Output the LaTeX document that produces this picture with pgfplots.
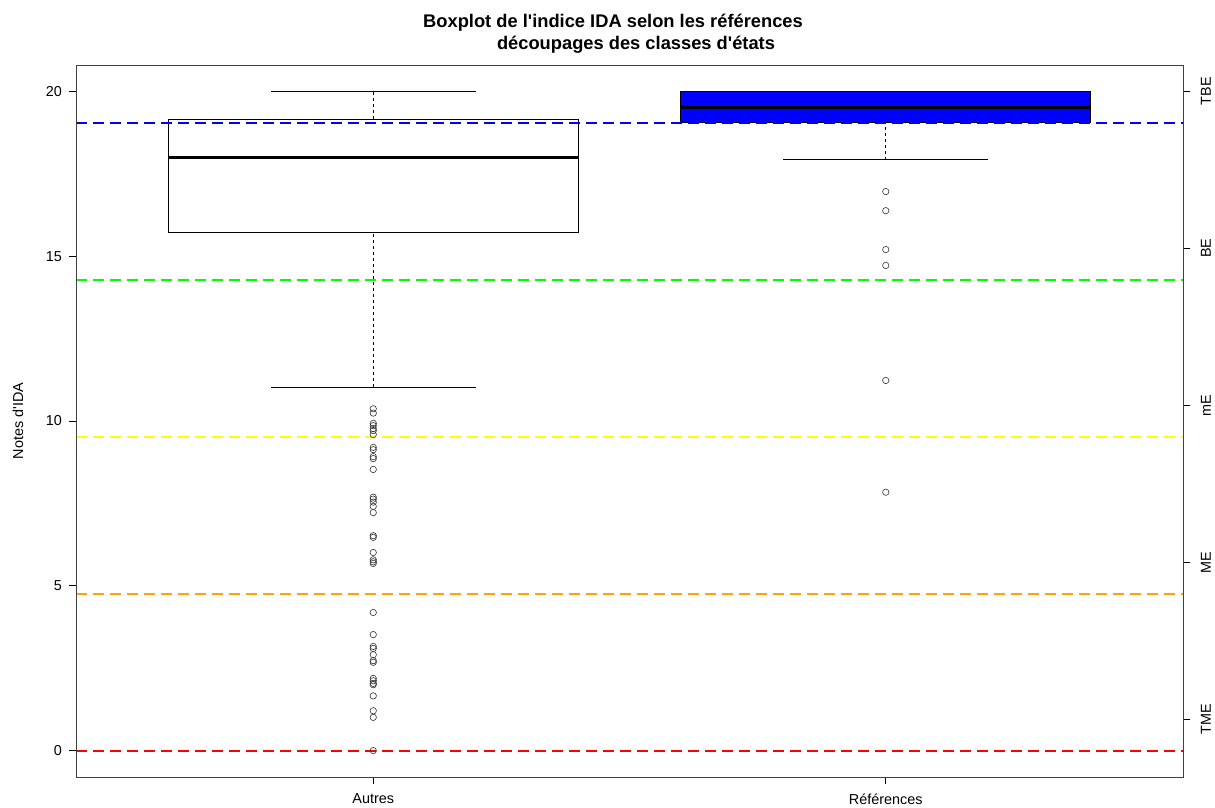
\documentclass[border=0pt]{standalone}
\usepackage{fontspec}
\setmainfont{Liberation Sans}
\usepackage{pgfplots}
\pgfplotsset{compat=1.18}
\definecolor{rorange}{RGB}{255,165,0}
\definecolor{ryellow}{RGB}{255,255,0}
\definecolor{rgreen}{RGB}{0,255,0}
\definecolor{rblue}{RGB}{0,0,255}
\definecolor{rred}{RGB}{255,0,0}
\begin{document}
\fontsize{14.4}{17}\selectfont
\begin{tikzpicture}[x=1pt,y=1pt]
\pgfplotsset{
  common/.style={
    at={(0,0)}, anchor=south west,
    scale only axis, width=1107pt, height=712pt,
    xmin=0.42, xmax=2.58, ymin=-0.8, ymax=20.8,
    tick align=outside, major tick length=7pt,
    tick style={black, line width=0.8pt},
    axis line style={black!75, line width=0.8pt},
    ticklabel style={font=\fontsize{14.4}{17}\selectfont},
    /pgf/number format/assume math mode=true,
    clip=false,
  }
}
\begin{axis}[common,
  xtick={1,2}, xticklabels={Autres,Références},
  xticklabel style={yshift=-5pt},
  ytick={0,5,10,15,20},
  yticklabel style={xshift=-2pt},
  xtick pos=bottom, ytick pos=left,
  ylabel={Notes d\textquotesingle IDA},
  ylabel style={at={(axis description cs:-0.0524,0.5)}, anchor=center, font=\fontsize{14.4}{17}\selectfont},
]
% Autres box
\addplot[black, line width=0.8pt, fill=white] coordinates {(0.6,15.72) (1.4,15.72) (1.4,19.15) (0.6,19.15)} -- cycle;
\addplot[black, line width=3pt] coordinates {(0.6,18.0) (1.4,18.0)};
\addplot[black, line width=0.8pt, dash pattern=on 3pt off 3pt] coordinates {(1,11.02) (1,15.72)};
\addplot[black, line width=0.8pt, dash pattern=on 3pt off 3pt] coordinates {(1,19.15) (1,20)};
\addplot[black, line width=0.8pt] coordinates {(0.8,11.02) (1.2,11.02)};
\addplot[black, line width=0.8pt] coordinates {(0.8,20) (1.2,20)};
% References box
\addplot[black, line width=0.8pt, fill=rblue] coordinates {(1.6,19.05) (2.4,19.05) (2.4,20) (1.6,20)} -- cycle;
\addplot[black, line width=3pt] coordinates {(1.6,19.51) (2.4,19.51)};
\addplot[black, line width=0.8pt, dash pattern=on 3pt off 3pt] coordinates {(2,17.93) (2,19.05)};
\addplot[black, line width=0.8pt] coordinates {(1.8,17.93) (2.2,17.93)};
% outliers
\addplot[only marks, mark=o, mark size=3.2pt, black!80, mark options={line width=0.6pt}] coordinates {
(1,10.37) (1,10.24) (1,9.93) (1,9.86) (1,9.77) (1,9.71) (1,9.59) (1,9.20) (1,9.13)
(1,8.92) (1,8.86) (1,8.53) (1,7.69) (1,7.63) (1,7.54) (1,7.41) (1,7.22) (1,6.52)
(1,6.47) (1,6.01) (1,5.79) (1,5.73) (1,5.68) (1,4.19) (1,3.52) (1,3.16) (1,3.10)
(1,2.91) (1,2.73) (1,2.68) (1,2.19) (1,2.12) (1,2.04) (1,2.00) (1,1.66) (1,1.21)
(1,1.01) (1,0)
};
\addplot[only marks, mark=o, mark size=3.2pt, black!80, mark options={line width=0.6pt}] coordinates {
(2,16.96) (2,16.38) (2,15.20) (2,14.72) (2,11.23) (2,7.84)
};
% reference lines
\addplot[rblue, line width=2pt, dash pattern=on 11pt off 6pt] coordinates {(0.42,19.048) (2.58,19.048)};
\addplot[rgreen, line width=2pt, dash pattern=on 11pt off 6pt] coordinates {(0.42,14.286) (2.58,14.286)};
\addplot[ryellow, line width=2pt, dash pattern=on 11pt off 6pt] coordinates {(0.42,9.524) (2.58,9.524)};
\addplot[rorange, line width=2pt, dash pattern=on 11pt off 6pt] coordinates {(0.42,4.762) (2.58,4.762)};
\addplot[rred, line width=2pt, dash pattern=on 11pt off 6pt] coordinates {(0.42,0) (2.58,0)};
\draw[black!75, line width=0.8pt] (rel axis cs:0,0) rectangle (rel axis cs:1,1);
\end{axis}
\begin{axis}[common,
  axis x line=none, axis y line*=right,
  ytick={0.952,5.714,10.476,15.238,20},
  yticklabels={TME,ME,mE,BE,TBE},
  yticklabel style={rotate=90, anchor=north, yshift=-6pt},
]
\end{axis}
\node[font=\bfseries\fontsize{18.3}{21}\selectfont] at (537,754) {Boxplot de l\textquotesingle indice IDA selon les références};
\node[font=\bfseries\fontsize{18.3}{21}\selectfont] at (560,732) {découpages des classes d\textquotesingle états};
\pgfresetboundingbox
\useasboundingbox (-76,-30) rectangle (1139,777);
\end{tikzpicture}
\end{document}
